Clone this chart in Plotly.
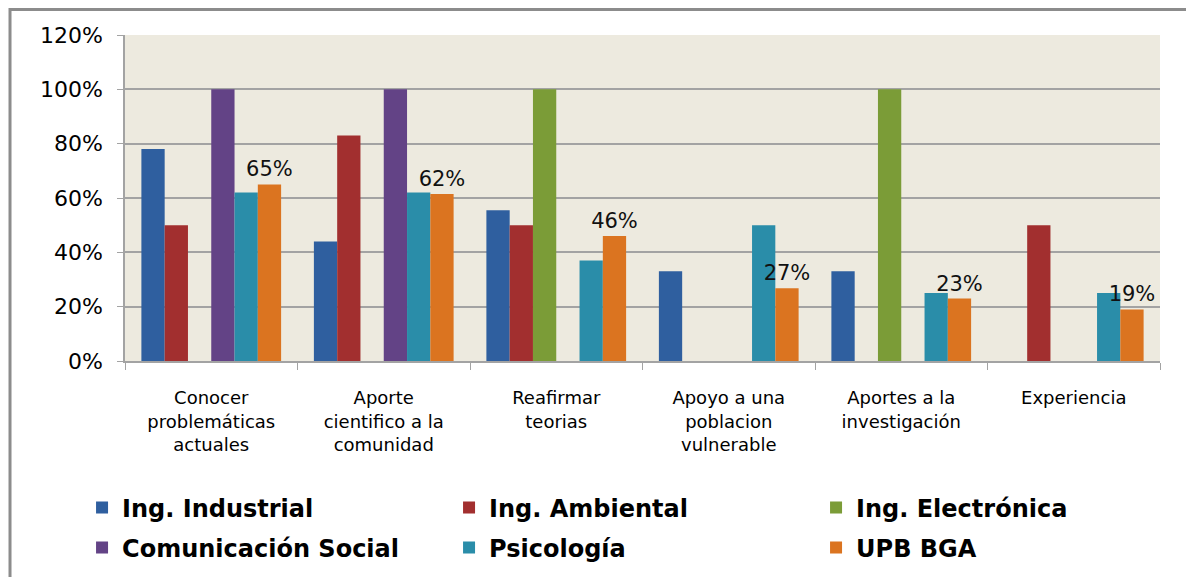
import plotly.graph_objects as go

categories = [
    "Conocer<br>problemáticas<br>actuales",
    "Aporte<br>cientifico a la<br>comunidad",
    "Reafirmar<br>teorias",
    "Apoyo a una<br>poblacion<br>vulnerable",
    "Aportes a la<br>investigación",
    "Experiencia",
]

series_names = ["Ing. Industrial", "Ing. Ambiental", "Ing. Electrónica",
                "Comunicación Social", "Psicología", "UPB BGA"]

ing_industrial = [0.78, 0.44, 0.555, 0.33, 0.33, 0.0]
ing_ambiental = [0.50, 0.83, 0.50, 0.0, 0.0, 0.50]
ing_electronica = [0.0, 0.0, 1.00, 0.0, 1.00, 0.0]
comunicacion_social = [1.00, 1.00, 0.0, 0.0, 0.0, 0.0]
psicologia = [0.62, 0.62, 0.37, 0.50, 0.25, 0.25]
upb_bga = [0.65, 0.615, 0.46, 0.268, 0.23, 0.19]

series_values = [ing_industrial, ing_ambiental, ing_electronica,
                 comunicacion_social, psicologia, upb_bga]
colors = ["#2F5F9F", "#A22F2F", "#7B9C37", "#634386", "#2A8DA9", "#DB7420"]
legend_ids = ["legend", "legend", "legend", "legend2", "legend2", "legend2"]

fig = go.Figure()
for name, vals, col, lg in zip(series_names, series_values, colors, legend_ids):
    is_upb = name == "UPB BGA"
    fig.add_trace(go.Bar(
        x=categories, y=vals, name=name, legend=lg,
        marker=dict(color=col, line=dict(width=0)),
        text=[f"{round(v*100)}%" for v in vals] if is_upb else None,
        textposition="outside" if is_upb else None,
        constraintext="none",
        textfont=dict(family="DejaVu Sans", size=21, color="#111111"),
        cliponaxis=False,
    ))

legend_font = dict(family="DejaVu Sans", size=24, color="black", weight="bold")
legend_common = dict(
    orientation="h", x=-0.0415, xanchor="left", yanchor="middle",
    font=legend_font, entrywidth=322, entrywidthmode="pixels",
    traceorder="normal", itemwidth=30, bgcolor="rgba(0,0,0,0)",
)

fig.update_layout(
    width=1186, height=569,
    margin=dict(l=117, r=34, t=27, b=216, autoexpand=False),
    paper_bgcolor="white",
    plot_bgcolor="#EDEADF",
    barmode="group",
    bargap=0.19,
    bargroupgap=0,
    font=dict(family="DejaVu Sans", color="black"),
    showlegend=True,
    legend=dict(y=-0.4509, **legend_common),
    legend2=dict(y=-0.5736, **legend_common),
)
fig.update_yaxes(
    range=[0, 1.2], dtick=0.2, tickformat=".0%",
    showgrid=True, gridcolor="#A3A3A3", gridwidth=1.5,
    showline=True, linecolor="#A3A3A3", linewidth=1.5,
    ticks="outside", ticklen=6, tickcolor="#A3A3A3",
    tickfont=dict(family="DejaVu Sans", size=22, color="black"),
    ticklabelstandoff=10, automargin=False,
    zeroline=False,
)
fig.update_xaxes(
    showline=True, linecolor="#A3A3A3", linewidth=1.5,
    ticks="outside", ticklen=7, tickcolor="#A3A3A3", tickson="boundaries",
    tickfont=dict(family="DejaVu Sans", size=18, color="black"),
    ticklabelstandoff=20, automargin=False,
)
# outer chart border
fig.add_shape(type="rect", xref="paper", yref="paper",
              x0=-0.1111, x1=1.029, y0=-0.75, y1=1.0782,
              line=dict(color="#8C8C8C", width=3), fillcolor="rgba(0,0,0,0)",
              layer="below")

fig.write_html("out.html")
